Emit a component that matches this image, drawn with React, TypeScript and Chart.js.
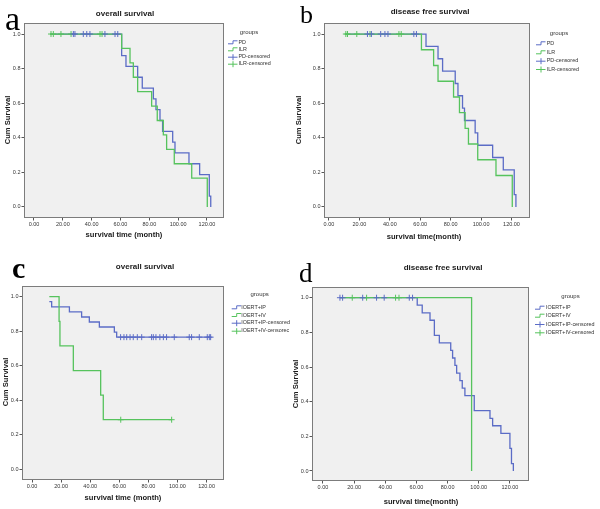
import React, { useEffect, useRef } from "react";
import { Chart, registerables } from "chart.js";
Chart.register(...registerables);

const W = 600;
const H = 509;
const SANS = '"Liberation Sans", Arial, sans-serif';
const SERIF = '"Liberation Serif", "Times New Roman", serif';
const BLUE = "#5b6cc6";
const GREEN = "#56c35d";

const X_TICKS = [0, 20, 40, 60, 80, 100, 120];
const Y_TICKS = [0, 0.2, 0.4, 0.6, 0.8, 1.0];

// ---------- panel a: overall survival, PD vs ILR ----------
const aPdTime = [11.2, 60.8, 63.8, 71.9, 75.1, 82.8, 84.6, 87.4, 89.2, 96.2, 97.8, 107.5, 114.9, 121.6, 122.6];
const aPdSurv = [1, 0.875, 0.8125, 0.75, 0.6875, 0.625, 0.5625, 0.5, 0.4375, 0.375, 0.3125, 0.25, 0.1875, 0.0625, 0];
const aIlrTime = [11.2, 60.8, 66.6, 68.9, 71.9, 81.6, 85.5, 89.7, 92.0, 97.3, 109.4, 120.2];
const aIlrSurv = [1, 0.917, 0.833, 0.75, 0.667, 0.583, 0.5, 0.417, 0.333, 0.25, 0.167, 0];
const aPdCens = [27.3, 28.4, 34.2, 36.6, 38.8, 49.2, 56.2, 58.1];
const aIlrCens = [11.8, 13.4, 18.7, 25.7, 45.8, 47.2];
const aLegend = ["PD", "ILR", "PD-censored", "ILR-censored"];

// ---------- panel b: disease free survival, PD vs ILR ----------
const bPdTime = [10.5, 63.8, 71.7, 74.7, 83.0, 84.8, 87.8, 89.1, 96.1, 97.8, 107.6, 114.6, 121.8, 122.9];
const bPdSurv = [1, 0.929, 0.857, 0.786, 0.714, 0.643, 0.571, 0.5, 0.429, 0.357, 0.286, 0.214, 0.071, 0];
const bIlrTime = [10.5, 60.8, 68.8, 71.7, 81.9, 85.8, 89.5, 91.7, 97.8, 109.8, 120.5];
const bIlrSurv = [1, 0.909, 0.818, 0.727, 0.636, 0.545, 0.455, 0.364, 0.273, 0.182, 0];
const bPdCens = [25.3, 27.9, 34.0, 36.8, 38.8, 55.8, 57.5];
const bIlrCens = [11.1, 12.2, 18.3, 27.0, 46.0, 47.5];
const bLegend = ["PD", "ILR", "PD-censored", "ILR-censored"];

// ---------- panel c: overall survival, IOERT+IP vs IOERT+IV ----------
const cIpTime = [11.9, 13.5, 25.7, 34.1, 39.4, 46.3, 56.6, 58.2, 123.0];
const cIpSurv = [0.971, 0.941, 0.912, 0.882, 0.853, 0.824, 0.794, 0.765, 0.765];
const cIvTime = [11.9, 18.6, 19.2, 28.4, 47.2, 49.0, 96.0];
const cIvSurv = [1, 0.857, 0.714, 0.571, 0.429, 0.286, 0.286];
const cIpCens = [60.9, 63.2, 65.1, 67.4, 69.6, 72.4, 75.4, 82.2, 83.4, 85.2, 87.9, 90.3, 92.5, 97.8, 108.1, 109.7, 115.0, 120.5, 121.9, 122.8];
const cIvCens = [61.0, 96.0];
const cLegend = ["IOERT+IP", "IOERT+IV", "IOERT+IP-censored", "IOERT+IV-censorec"];

// ---------- panel d: disease free survival, IOERT+IP vs IOERT+IV ----------
const dIpTime = [10.9, 60.5, 63.7, 68.7, 71.5, 74.7, 82.0, 83.2, 84.7, 85.8, 87.9, 89.4, 91.1, 97.1, 107.2, 108.9, 114.2, 120.0, 121.0, 122.2];
const dIpSurv = [1, 0.957, 0.913, 0.870, 0.783, 0.739, 0.696, 0.652, 0.609, 0.565, 0.522, 0.478, 0.435, 0.348, 0.304, 0.261, 0.217, 0.130, 0.043, 0];
const dIvTime = [10.9, 95.4];
const dIvSurv = [1, 0];
const dIpCens = [10.9, 12.6, 25.5, 34.4, 39.3, 55.4, 57.5];
const dIvCens = [18.8, 28.0, 46.6, 48.8];
const dLegend = ["IOERT+IP", "IOERT+IV", "IOERT+IP-censored", "IOERT+IV-censored"];

const YW = 22; // y-axis band width
const XH = 20; // x-axis band height

type Panel = {
  id: string;
  blueT: number[]; blueS: number[]; greenT: number[]; greenS: number[];
  blueC: number[]; greenC: number[]; legend: string[];
  box: { L: number; T: number; R: number; B: number };
  x: [number, number]; y: [number, number];
  letter: string; letterFont: string; letterX: number; letterY: number;
  title: string; titleX: number; titleY: number;
  xLabel: string; xLabelX: number; xLabelY: number;
  yLabelX: number; yLabelY: number;
  groupsX: number; groupsY: number; iconX: number; textX: number; rows: number[];
};

const panels: Panel[] = [
  {
    id: "a", blueT: aPdTime, blueS: aPdSurv, greenT: aIlrTime, greenS: aIlrSurv, blueC: aPdCens, greenC: aIlrCens, legend: aLegend,
    box: { L: 25, T: 24, R: 223, B: 217 }, x: [-6.24, 131.1], y: [-0.058, 1.058],
    letter: "a", letterFont: `34px ${SERIF}`, letterX: 5, letterY: 29.5,
    title: "overall survival", titleX: 125, titleY: 14,
    xLabel: "survival time (month)", xLabelX: 124, xLabelY: 235,
    yLabelX: 8, yLabelY: 120,
    groupsX: 249, groupsY: 32.3, iconX: 228, textX: 238.5, rows: [42.3, 49.3, 56.7, 63.7],
  },
  {
    id: "b", blueT: bPdTime, blueS: bPdSurv, greenT: bIlrTime, greenS: bIlrSurv, blueC: bPdCens, greenC: bIlrCens, legend: bLegend,
    box: { L: 325, T: 24, R: 529, B: 217 }, x: [-2.6, 131.5], y: [-0.058, 1.058],
    letter: "b", letterFont: `26px ${SERIF}`, letterX: 300, letterY: 22.7,
    title: "disease free survival", titleX: 430, titleY: 12,
    xLabel: "survival time(month)", xLabelX: 424, xLabelY: 237,
    yLabelX: 299, yLabelY: 120,
    groupsX: 559, groupsY: 33.3, iconX: 536, textX: 546.7, rows: [43.3, 52.3, 60.7, 69],
  },
  {
    id: "c", blueT: cIpTime, blueS: cIpSurv, greenT: cIvTime, greenS: cIvSurv, blueC: cIpCens, greenC: cIvCens, legend: cLegend,
    box: { L: 23, T: 287, R: 223, B: 479 }, x: [-6.2, 131.3], y: [-0.058, 1.056],
    letter: "c", letterFont: `bold 30px ${SERIF}`, letterX: 12, letterY: 278.3,
    title: "overall survival", titleX: 145, titleY: 267,
    xLabel: "survival time (month)", xLabelX: 123, xLabelY: 498,
    yLabelX: 6, yLabelY: 382,
    groupsX: 259.7, groupsY: 294.3, iconX: 231.7, textX: 241.3, rows: [307.3, 315, 322.7, 330.7],
  },
  {
    id: "d", blueT: dIpTime, blueS: dIpSurv, greenT: dIvTime, greenS: dIvSurv, blueC: dIpCens, greenC: dIvCens, legend: dLegend,
    box: { L: 313, T: 288, R: 528, B: 480 }, x: [-6.4, 131.6], y: [-0.052, 1.056],
    letter: "d", letterFont: `27px ${SERIF}`, letterX: 299, letterY: 281.7,
    title: "disease free survival", titleX: 443, titleY: 268,
    xLabel: "survival time(month)", xLabelX: 421, xLabelY: 502,
    yLabelX: 296, yLabelY: 384,
    groupsX: 570.5, groupsY: 296.7, iconX: 535, textX: 546, rows: [307.7, 315.7, 324, 332.3],
  },
];

function survAt(times: number[], surv: number[], t: number): number {
  let v = surv[0];
  for (let i = 0; i < times.length; i++) if (times[i] <= t) v = surv[i];
  return v;
}

function makeDecor(p: Panel) {
  return {
    id: "decor_" + p.id,
    beforeDraw(chart: any) {
      const a = chart.chartArea;
      const ctx = chart.ctx;
      ctx.save();
      ctx.fillStyle = "#f0f0f0";
      ctx.fillRect(a.left, a.top, a.right - a.left, a.bottom - a.top);
      ctx.restore();
    },
    afterDraw(chart: any) {
      const a = chart.chartArea;
      const ctx = chart.ctx as CanvasRenderingContext2D;
      ctx.save();
      ctx.strokeStyle = "#7c7c7c";
      ctx.lineWidth = 1;
      ctx.strokeRect(Math.round(a.left) - 0.5, Math.round(a.top) - 0.5, Math.round(a.right - a.left) + 1, Math.round(a.bottom - a.top) + 1);

      // panel letter
      ctx.fillStyle = "#000";
      ctx.textAlign = "left";
      ctx.textBaseline = "alphabetic";
      ctx.font = p.letterFont;
      ctx.fillText(p.letter, p.letterX, p.letterY);

      // title
      ctx.fillStyle = "#1a1a1a";
      ctx.textAlign = "center";
      ctx.textBaseline = "middle";
      ctx.font = `bold 8px ${SANS}`;
      ctx.fillText(p.title, p.titleX, p.titleY);

      // axis titles
      ctx.font = `bold 7.6px ${SANS}`;
      ctx.fillText(p.xLabel, p.xLabelX, p.xLabelY);
      ctx.save();
      ctx.translate(p.yLabelX, p.yLabelY);
      ctx.rotate(-Math.PI / 2);
      ctx.fillText("Cum Survival", 0, 0);
      ctx.restore();

      // legend
      ctx.fillStyle = "#333";
      ctx.font = `6px ${SANS}`;
      ctx.fillText("groups", p.groupsX, p.groupsY);
      ctx.textAlign = "left";
      ctx.font = `5.4px ${SANS}`;
      const cols = [BLUE, GREEN, BLUE, GREEN];
      p.legend.forEach((lab, i) => {
        const y = p.rows[i];
        const x0 = p.iconX;
        ctx.strokeStyle = cols[i];
        ctx.lineWidth = 1;
        ctx.beginPath();
        if (i < 2) {
          ctx.moveTo(x0, y + 1.5);
          ctx.lineTo(x0 + 5, y + 1.5);
          ctx.lineTo(x0 + 5, y - 1.5);
          ctx.lineTo(x0 + 9.5, y - 1.5);
        } else {
          ctx.moveTo(x0, y + 0.5);
          ctx.lineTo(x0 + 9.5, y + 0.5);
          ctx.moveTo(x0 + 5, y - 2.5);
          ctx.lineTo(x0 + 5, y + 3.5);
        }
        ctx.stroke();
        ctx.fillStyle = "#333";
        ctx.fillText(lab, p.textX, y + 0.3);
      });
      ctx.restore();
    },
  };
}

function buildConfig(p: Panel): any {
  const line = (t: number[], s: number[], color: string, label: string) => ({
    label,
    data: t.map((x, i) => ({ x, y: s[i] })),
    borderColor: color,
    backgroundColor: color,
    borderWidth: 1.3,
    stepped: true,
    pointRadius: 0,
    fill: false,
    tension: 0,
  });
  const cens = (c: number[], t: number[], s: number[], color: string, label: string) => ({
    label,
    data: c.map((x) => ({ x, y: survAt(t, s, x) })),
    borderColor: color,
    backgroundColor: color,
    showLine: false,
    pointStyle: "cross",
    pointRadius: 3,
    borderWidth: 1,
  });
  const tickFont = { family: SANS, size: 5.5 };
  return {
    type: "line",
    data: {
      datasets: [
        cens(p.blueC, p.blueT, p.blueS, BLUE, p.legend[2]),
        cens(p.greenC, p.greenT, p.greenS, GREEN, p.legend[3]),
        line(p.greenT, p.greenS, GREEN, p.legend[1]),
        line(p.blueT, p.blueS, BLUE, p.legend[0]),
      ],
    },
    options: {
      responsive: false,
      animation: false,
      devicePixelRatio: 1,
      events: [],
      layout: {
        padding: { left: p.box.L - YW, top: p.box.T, right: W - p.box.R, bottom: H - p.box.B - XH },
      },
      plugins: { legend: { display: false }, tooltip: { enabled: false }, title: { display: false } },
      scales: {
        x: {
          type: "linear",
          min: p.x[0],
          max: p.x[1],
          afterBuildTicks: (s: any) => { s.ticks = X_TICKS.map((v) => ({ value: v })); },
          afterFit: (s: any) => { s.height = XH; },
          ticks: { callback: (v: any) => Number(v).toFixed(2), font: tickFont, color: "#333", padding: 1, maxRotation: 0, autoSkip: false },
          grid: { drawOnChartArea: false, drawTicks: true, tickLength: 3.5, color: "#555" },
          border: { display: false },
        },
        y: {
          type: "linear",
          min: p.y[0],
          max: p.y[1],
          afterBuildTicks: (s: any) => { s.ticks = Y_TICKS.map((v) => ({ value: v })); },
          afterFit: (s: any) => { s.width = YW; },
          ticks: { callback: (v: any) => Number(v).toFixed(1), font: tickFont, color: "#333", padding: 1, autoSkip: false },
          grid: { drawOnChartArea: false, drawTicks: true, tickLength: 3.5, color: "#555" },
          border: { display: false },
        },
      },
    },
    plugins: [makeDecor(p)],
  };
}

function PanelCanvas({ p }: { p: Panel }) {
  const ref = useRef<HTMLCanvasElement | null>(null);
  useEffect(() => {
    if (!ref.current) return;
    const chart = new Chart(ref.current, buildConfig(p));
    return () => chart.destroy();
  }, [p]);
  return (
    <canvas
      ref={ref}
      width={W}
      height={H}
      style={{ position: "absolute", left: 0, top: 0, width: W, height: H }}
    />
  );
}

export default function App() {
  return (
    <div style={{ position: "fixed", left: 0, top: 0, width: W, height: H, background: "#ffffff", overflow: "hidden" }}>
      {panels.map((p) => (
        <PanelCanvas key={p.id} p={p} />
      ))}
    </div>
  );
}
